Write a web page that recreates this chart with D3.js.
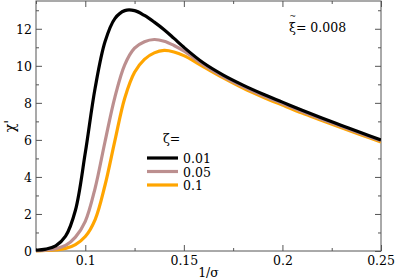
<!DOCTYPE html>
<html>
<head>
<meta charset="utf-8">
<script src="https://cdn.jsdelivr.net/npm/d3@7"></script>
<style>
  html, body { margin: 0; padding: 0; background: #fff; }
  svg { display: block; }
  svg text { font-family: "DejaVu Serif", "Liberation Serif", "Noto Serif", serif; fill: #000; }
</style>
</head>
<body>
<svg id="chart" width="395" height="280"></svg>
<script>
const xs = [0.075,0.08,0.085,0.09,0.095,0.1,0.105,0.11,0.115,0.12,0.125,0.13,0.135,0.14,0.145,0.15,0.16,0.17,0.18,0.19,0.2,0.21,0.22,0.23,0.24,0.25];
const zeta001 = [0.04,0.1,0.28,0.8,2.2,5.3,8.8,11.3,12.55,12.98,12.98,12.72,12.36,11.95,11.48,11.0,10.15,9.5,8.96,8.48,8.04,7.6,7.18,6.78,6.38,6.0];
const zeta005 = [0.02,0.05,0.12,0.3,0.75,1.6,3.4,5.9,8.3,10.05,10.95,11.3,11.42,11.33,11.1,10.8,10.05,9.42,8.88,8.4,7.97,7.53,7.12,6.72,6.33,5.95];
const zeta01  = [0.01,0.03,0.06,0.14,0.35,0.78,1.7,3.55,5.95,8.25,9.65,10.35,10.7,10.83,10.75,10.55,9.95,9.35,8.8,8.32,7.88,7.45,7.05,6.65,6.27,5.88];
const seriesNames = ["0.01","0.05","0.1"];
const seriesColors = ["#000000","#bc8f8f","#ffa500"];
const seriesValues = [zeta001, zeta005, zeta01];
const xTicks = [0.1,0.15,0.2,0.25];
const xTickLabels = ["0.1","0.15","0.2","0.25"];
const xMinor = [0.075,0.125,0.175,0.225];
const yTicks = [0,2,4,6,8,10,12];
const yMinor = [1,3,5,7,9,11,13];

const svg = d3.select("#chart");
const L = 36, R = 381, T = 1, B = 251;
const x = d3.scaleLinear().domain([0.075,0.25]).range([L,R]);
const y = d3.scaleLinear().domain([0,13.5]).range([B,T]);
const axisColor = "#555";
const FONT = "'DejaVu Serif', 'Liberation Serif', serif";
const FS = 12.5;

svg.append("rect").attr("x",L).attr("y",T).attr("width",R-L).attr("height",B-T)
  .attr("fill","none").attr("stroke",axisColor).attr("stroke-width",1);

function ticks(axisGen, transform, sizeMajor, sizeMinor, vals, minors, labels) {
  const g = svg.append("g").attr("transform",transform);
  g.call(axisGen.tickValues(vals).tickSize(sizeMajor).tickFormat(labels ? (d,i)=>labels[i] : ""));
  const g2 = svg.append("g").attr("transform",transform);
  g2.call(axisGen.tickValues(minors).tickSize(sizeMinor).tickFormat(""));
  [g,g2].forEach(gg=>{
    gg.attr("font-family", FONT);
    gg.select(".domain").remove();
    gg.selectAll("line").attr("stroke",axisColor);
    gg.selectAll("text").attr("font-size",FS).attr("fill","#000");
  });
  return g;
}
const gb = ticks(d3.axisBottom(x), `translate(0,${B})`, -6, -3, xTicks, xMinor, xTickLabels);
gb.selectAll("text").attr("y",14).attr("dy","0");
gb.selectAll(".tick").filter(d=>d===0.25).select("text").attr("text-anchor","end").attr("x",13.5);
ticks(d3.axisTop(x), `translate(0,${T})`, -6, -3, xTicks, xMinor, null);
const gl = ticks(d3.axisLeft(y), `translate(${L},0)`, -6, -3, yTicks, yMinor, yTicks.map(String));
gl.selectAll("text").attr("x",-4).attr("dy","0.35em");
ticks(d3.axisRight(y), `translate(${R},0)`, -6, -3, yTicks, yMinor, null);

const line = d3.line().x((d,i)=>x(xs[i])).y(d=>y(d)).curve(d3.curveCatmullRom.alpha(0.5));
svg.append("clipPath").attr("id","clip").append("rect")
  .attr("x",L).attr("y",T).attr("width",R-L).attr("height",B-T+2);
const lg = svg.append("g").attr("clip-path","url(#clip)");
for (let k = seriesValues.length-1; k >= 0; k--) {
  lg.append("path").attr("d", line(seriesValues[k])).attr("fill","none")
    .attr("stroke", seriesColors[k]).attr("stroke-width",3.2).attr("stroke-linejoin","round");
}

svg.append("text").attr("x",(L+R)/2).attr("y",277).attr("text-anchor","middle")
  .attr("font-family",FONT).attr("font-size",FS).text("1/σ");
svg.append("text").attr("transform",`translate(15,${(T+B)/2}) rotate(-90)`)
  .attr("text-anchor","middle").attr("font-family",FONT).attr("font-size",14).text("χ'");

// annotation: xi with tilde above
svg.append("text").attr("x",289).attr("y",32).attr("font-family",FONT).attr("font-size",FS)
  .text("ξ= 0.008");
svg.append("text").attr("x",289.5).attr("y",18.5).attr("font-family",FONT).attr("font-size",8)
  .text("~");

// legend
svg.append("text").attr("x",163).attr("y",143).attr("font-family",FONT).attr("font-size",FS).text("ζ=");
const lt = svg.append("text").attr("font-family",FONT).attr("font-size",FS);
seriesNames.forEach((n,i)=>{
  const yy = 158 + i*13.5;
  svg.append("line").attr("x1",147).attr("x2",178).attr("y1",yy).attr("y2",yy)
    .attr("stroke",seriesColors[i]).attr("stroke-width",3.2);
  lt.append("tspan").attr("x",183).attr("y",yy+5).text(n);
});
</script>
</body>
</html>
